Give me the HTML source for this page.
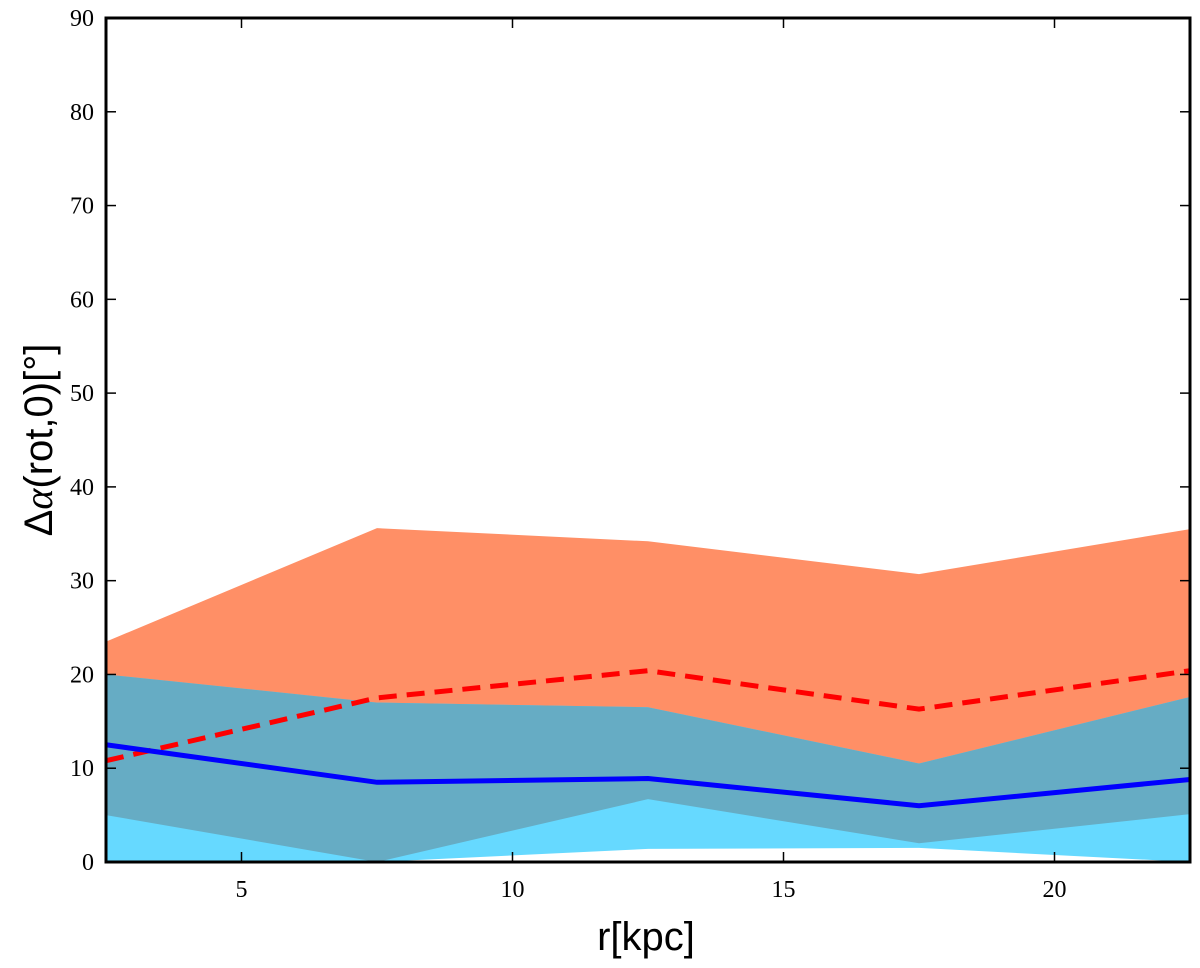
<!DOCTYPE html>
<html><head><meta charset="utf-8"><style>
body{margin:0;background:#fff;}
svg text{font-family:"Liberation Serif",serif;}
</style></head><body>
<svg id="chart" width="1200" height="963" xmlns="http://www.w3.org/2000/svg">
<defs><clipPath id="orangeClip"><path id="clipPathShape"/></clipPath></defs>
<g id="plot"></g>
<g id="axes"></g>
<text x="646" y="950" text-anchor="middle" font-size="40" style="font-family:'Liberation Sans',sans-serif">r[kpc]</text>
<text transform="translate(52,440) rotate(-90)" text-anchor="middle" font-size="40" style="font-family:'Liberation Sans',sans-serif">Δ<tspan font-style="italic" style="font-family:'Liberation Serif',serif">α</tspan>(rot,0)[°]</text>
</svg>
<script>
const xs=[2.5,7.5,12.5,17.5,22.5];
const orangeUpper=[23.5,35.6,34.2,30.7,35.5];
const orangeLower=[5.0,0,6.7,2.0,5.1];
const cyanUpper=[20.0,17.0,16.5,10.5,17.6];
const cyanLower=[0,0,1.4,1.5,0];
const blueLine=[12.5,8.5,8.9,6.0,8.8];
const redLine=[10.8,17.5,20.4,16.3,20.4];
const xTicks=[5,10,15,20];
const yTicks=[0,10,20,30,40,50,60,70,80,90];
const L=106,R=1190,T=18,B=862;
const X=v=>L+(v-2.5)/20*(R-L);
const Y=v=>B-v/90*(B-T);
const NS="http://www.w3.org/2000/svg";
const plot=document.getElementById('plot'),axes=document.getElementById('axes');
function band(u,l){let d='M'+xs.map((x,i)=>X(x)+','+Y(u[i])).join('L');d+='L'+xs.slice().reverse().map((x,j)=>X(x)+','+Y(l[xs.length-1-j])).join('L')+'Z';return d;}
function line(v){return 'M'+xs.map((x,i)=>X(x)+','+Y(v[i])).join('L');}
function mk(tag,attrs,parent){const e=document.createElementNS(NS,tag);for(const k in attrs)e.setAttribute(k,attrs[k]);parent.appendChild(e);return e;}
document.getElementById('clipPathShape').setAttribute('d',band(orangeUpper,orangeLower));
let e=mk('path',{d:band(orangeUpper,orangeLower),fill:'#ff8f66'},plot);


e=mk('path',{d:band(cyanUpper,cyanLower),fill:'#66d9ff'},plot);


e=mk('path',{d:band(cyanUpper,cyanLower),fill:'#66acc4','clip-path':'url(#orangeClip)'},plot);


e=mk('path',{d:line(redLine),fill:'none',stroke:'#ff0000','stroke-width':5,'stroke-dasharray':'18,10'},plot);


e=mk('path',{d:line(blueLine),fill:'none',stroke:'#0000ff','stroke-width':5},plot);


e=mk('rect',{x:L,y:T,width:R-L,height:B-T,fill:'none',stroke:'#000','stroke-width':3},axes);


xTicks.forEach(t=>{
 const x=X(t);
 mk('line',{x1:x,x2:x,y1:B,y2:B-10,stroke:'#000','stroke-width':1.5},axes);
 mk('line',{x1:x,x2:x,y1:T,y2:T+10,stroke:'#000','stroke-width':1.5},axes);
 const tx=mk('text',{x:x,y:B+35,'text-anchor':'middle','font-size':24},axes);
 tx.textContent=t;
 
 
});
yTicks.forEach(t=>{
 const y=Y(t);
 mk('line',{x1:L,x2:L+10,y1:y,y2:y,stroke:'#000','stroke-width':1.5},axes);
 mk('line',{x1:R,x2:R-10,y1:y,y2:y,stroke:'#000','stroke-width':1.5},axes);
 const tx=mk('text',{x:L-12,y:y+8,'text-anchor':'end','font-size':24},axes);
 tx.textContent=t;
 
 
});
</script>
</body></html>
